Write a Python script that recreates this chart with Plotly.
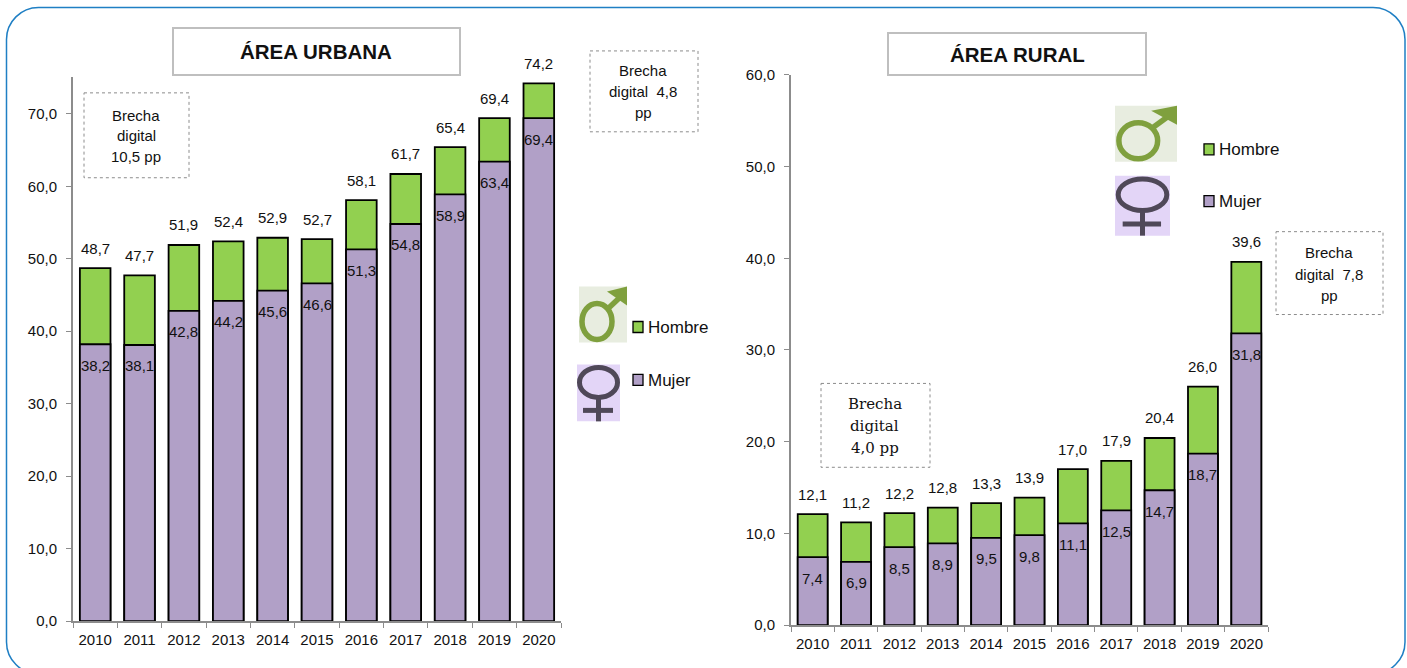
import plotly.graph_objects as go

W, H = 1407, 668
# the drawing area of the page sits 8 px below the top and is 652 px tall
TOP, PLOT_H = 8, 652
YEARS = ["2010","2011","2012","2013","2014","2015","2016","2017","2018","2019","2020"]
URB_TOTAL = [48.7,47.7,51.9,52.4,52.9,52.7,58.1,61.7,65.4,69.4,74.2]
URB_MUJER = [38.2,38.1,42.8,44.2,45.6,46.6,51.3,54.8,58.9,63.4,69.4]
RUR_TOTAL = [12.1,11.2,12.2,12.8,13.3,13.9,17.0,17.9,20.4,26.0,39.6]
RUR_MUJER = [7.4,6.9,8.5,8.9,9.5,9.8,11.1,12.5,14.7,18.7,31.8]
GREEN, PURPLE = "#92D050", "#B1A0C7"
FONT = "Liberation Sans, Arial"
BLACK = "#111111"
GREY = "#8c8c8c"
FS = 15

def fx(v): return v / W
def fy(v): return 1 - (v - TOP) / PLOT_H
def lab(v): return f"{v:.1f}".replace(".", ",")

fig = go.Figure()
shapes, annotations = [], []
for xa, ya, tot, muj in (("x","y",URB_TOTAL,URB_MUJER),("x2","y2",RUR_TOTAL,RUR_MUJER)):
    fig.add_bar(x=YEARS, y=tot, xaxis=xa, yaxis=ya, name="Hombre", marker=dict(color=GREEN, line=dict(color="#000", width=1.8)),
                showlegend=False, hoverinfo="skip")
    fig.add_bar(x=YEARS, y=muj, xaxis=xa, yaxis=ya, name="Mujer", marker=dict(color=PURPLE, line=dict(color="#000", width=1.8)),
                showlegend=False, hoverinfo="skip")
    for i, (t, m) in enumerate(zip(tot, muj)):
        for val, shift in ((t, 20), (m, -21)):
            annotations.append(dict(xref=xa, yref=ya, x=i, y=val, yshift=shift, text=lab(val), showarrow=False,
                                    xanchor="center", yanchor="middle", font=dict(family=FONT, size=FS, color=BLACK)))

def xaxis(dom, anchor):
    return dict(domain=[fx(dom[0]), fx(dom[1])], anchor=anchor, type="category", tickson="boundaries", ticks="outside", ticklen=5,
                tickangle=0, tickcolor=GREY, linecolor=GREY, linewidth=2, showgrid=False, ticklabelstandoff=4,
                range=[-0.5, len(YEARS) - 0.5], tickfont=dict(family=FONT, size=FS, color=BLACK))
def yaxis(dom, rng, anchor):
    return dict(domain=[fy(dom[1]), fy(dom[0])], anchor=anchor, range=rng, dtick=10, ticks="outside", ticklen=5, tickcolor=GREY,
                linecolor=GREY, linewidth=2, showgrid=False, tickformat=".1f", ticklabelstandoff=6,
                tickfont=dict(family=FONT, size=FS, color=BLACK), zeroline=False)

def rect(x0, y0, x1, y1, line=None, fill="#fff", dash="solid", w=1.5):
    shapes.append(dict(type="rect", xref="paper", yref="paper", x0=fx(x0), x1=fx(x1), y0=fy(y0), y1=fy(y1),
                       line=dict(color=line, width=w, dash=dash) if line else dict(width=0), fillcolor=fill))
def seg(x0, y0, x1, y1, color, w):
    shapes.append(dict(type="line", xref="paper", yref="paper", x0=fx(x0), x1=fx(x1), y0=fy(y0), y1=fy(y1), line=dict(color=color, width=w)))
def ring(x0, y0, x1, y1, color, w):
    shapes.append(dict(type="circle", xref="paper", yref="paper", x0=fx(x0), x1=fx(x1), y0=fy(y0), y1=fy(y1), line=dict(color=color, width=w), fillcolor="rgba(0,0,0,0)"))
def text(x, y, t, size=FS, fam=FONT, bold=False, anchor="center"):
    annotations.append(dict(xref="paper", yref="paper", x=fx(x), y=fy(y), text=f"<b>{t}</b>" if bold else t, showarrow=False,
                            xanchor=anchor, yanchor="middle", align="center", font=dict(family=fam, size=size, color=BLACK)))

# rounded frame
r, l, t_, rt, b = 32, 6.5, 6.5, 1405, 674
k = r * 0.45
def P(x, y): return f"{fx(x)} {fy(y)}"
shapes.append(dict(type="path", xref="paper", yref="paper", line=dict(color="#1F7FC4", width=1.5),
    path=f"M {P(l+r,t_)} L {P(rt-r,t_)} C {P(rt-k,t_)} {P(rt,t_+k)} {P(rt,t_+r)} L {P(rt,b-r)} C {P(rt,b-k)} {P(rt-k,b)} {P(rt-r,b)} "
         f"L {P(l+r,b)} C {P(l+k,b)} {P(l,b-k)} {P(l,b-r)} L {P(l,t_+r)} C {P(l,t_+k)} {P(l+k,t_)} {P(l+r,t_)} Z"))

# titles
rect(173, 27, 460, 74, "#BFBFBF", w=2); text(316, 51, "ÁREA URBANA", 20.5, bold=True)
rect(888, 32, 1146, 74, "#BFBFBF", w=2); text(1017, 54, "ÁREA RURAL", 20.5, bold=True)

# boxes
DOT = "#8c8c8c"
rect(84, 92, 189, 177, DOT, dash="dot", w=1)
text(136, 115, "Brecha"); text(136, 135, "digital"); text(136, 156, "10,5 pp")
rect(590, 50, 698, 131, DOT, dash="dot", w=1)
text(643, 70, "Brecha"); text(643, 91, "digital  4,8"); text(643, 112, "pp")
rect(1276, 231, 1383, 314, DOT, dash="dot", w=1)
text(1329, 252, "Brecha"); text(1329, 274, "digital  7,8"); text(1329, 295, "pp")
rect(821, 383, 930, 467, DOT, dash="dot", w=1)
SERIF = "DejaVu Serif"
text(875, 404, "Brecha", 15, SERIF); text(875, 426, "digital", 15, SERIF); text(875, 448, "4,0 pp", 15, SERIF)

# icons
def male(x, y, w, h):
    sx, sy = w / 48, h / 56
    rect(x, y, x + w, y + h, None, "#E8EDE0")
    g = "#7FA03E"
    ring(x + 3*sx, y + 17*sy, x + 33*sx, y + 53*sy, g, 5.5)
    seg(x + 28*sx, y + 23*sy, x + 44*sx, y + 8*sy, g, 5.5)
    shapes.append(dict(type="path", xref="paper", yref="paper", fillcolor=g, line=dict(width=0),
        path=f"M {P(x+28*sx,y+5*sy)} L {P(x+w,y)} L {P(x+w,y+19*sy)} Z"))
def female(x, y, w, h):
    sx, sy = w / 43, h / 57
    rect(x, y, x + w, y + h, None, "#E3D5F7")
    d = "#4F4858"
    ring(x + 2.5*sx, y + 3*sy, x + 40.5*sx, y + 33*sy, d, 5)
    seg(x + 21.5*sx, y + 33*sy, x + 21.5*sx, y + h, d, 5)
    seg(x + 6*sx, y + 46*sy, x + 36*sx, y + 46*sy, d, 5)

male(579, 286, 48, 56); female(577, 364, 43, 57)
male(1115, 105, 62, 56); female(1115, 175, 55, 60)

for lx, ly_h, ly_m in ((633, 327, 380), (1204, 149, 201)):
    rect(lx, ly_h - 6, lx + 10, ly_h + 5, "#000", GREEN, w=1.3)
    rect(lx, ly_m - 6, lx + 10, ly_m + 5, "#000", PURPLE, w=1.3)
    text(lx + 13, ly_h, "Hombre", 17, anchor="left")
    text(lx + 13, ly_m, "Mujer", 17, anchor="left")

fig.update_layout(
    width=W, height=H, margin=dict(l=0, r=0, t=0, b=0), autosize=False, paper_bgcolor="#fff", plot_bgcolor="rgba(0,0,0,0)",
    barmode="overlay", bargap=0.31, separators=",.", showlegend=False,
    xaxis=xaxis((73, 561), "y"), yaxis=yaxis((76, 621), [0, 75.1], "x"),
    xaxis2=xaxis((791, 1268), "y2"), yaxis2=yaxis((74, 625), [0, 60], "x2"),
    shapes=shapes, annotations=annotations,
)
POST = """
var st=document.createElement('style');
st.textContent='html,body{margin:0!important;padding:0!important;overflow:hidden!important}'+
 '.js-plotly-plot{position:fixed!important;left:0!important;top:0!important;width:1407px!important;height:668px!important}';
document.head.appendChild(st);
var gd=document.getElementById('{plot_id}');
Plotly.relayout(gd,{autosize:false,width:1407,height:668});
"""
fig.write_html("out.html", config=dict(displayModeBar=False), post_script=POST)
